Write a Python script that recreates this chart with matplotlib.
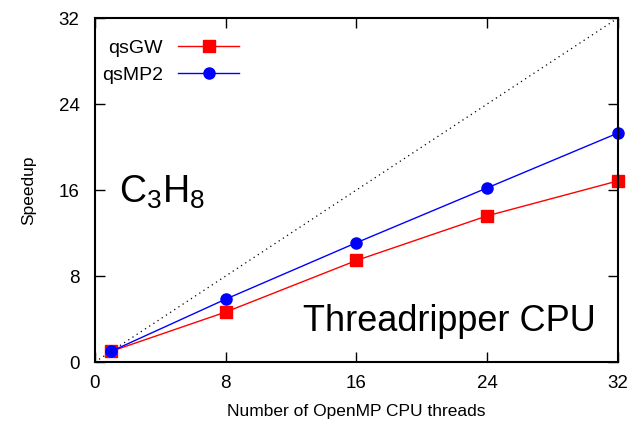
import matplotlib
matplotlib.use("Agg")
import matplotlib.pyplot as plt

threads = [1, 8, 16, 24, 32]
qsgw = [1.0, 4.65, 9.45, 13.6, 16.85]
qsmp2 = [1.0, 5.85, 11.1, 16.2, 21.3]
ticks = [0, 8, 16, 24, 32]

plt.rcParams['font.family'] = ['Liberation Sans', 'DejaVu Sans']
plt.rcParams['mathtext.fontset'] = 'custom'
plt.rcParams['mathtext.rm'] = 'Liberation Sans'
plt.rcParams['mathtext.it'] = 'Liberation Sans'

fig = plt.figure(figsize=(6.41, 4.29), dpi=100)
ax = fig.add_axes([0.148, 0.156, 0.816, 0.802])

# ideal scaling
ax.plot([0, 32], [0, 32], color='black', linestyle=(0, (1, 3)), linewidth=0.9)

ax.plot(threads, qsgw, color='red', marker='s', markersize=8, linewidth=1,
        label='qsGW', clip_on=False, zorder=3)
ax.plot(threads, qsmp2, color='blue', marker='o', markersize=8, linewidth=1,
        label='qsMP2', clip_on=False, zorder=3)

ax.set_xlim(0, 32)
ax.set_ylim(0, 32)
ax.set_xticks(ticks)
ax.set_yticks(ticks)
ax.tick_params(direction='in', length=7, width=1, labelsize=13.5,
               top=True, right=True)
ax.tick_params(axis='x', pad=9)
ax.tick_params(axis='y', pad=11)
for s in ax.spines.values():
    s.set_linewidth(1.5)
    s.set_zorder(4)

ax.set_xlabel('Number of OpenMP CPU threads', fontsize=12.5, labelpad=9)
ax.set_ylabel('Speedup', fontsize=12.5, labelpad=16)

ax.text(1.5, 15.8, r'C$_\mathregular{3}$H$_\mathregular{8}$', fontsize=27,
        va='center')
ax.text(30.65, 3.8, 'Threadripper CPU', fontsize=26, ha='right', va='center')

leg = ax.legend(loc='upper left', bbox_to_anchor=(-0.02, 0.99), frameon=False,
                fontsize=14, markerfirst=False, handlelength=3.1,
                handletextpad=0.8, labelspacing=0.5)
for t in leg.get_texts():
    t.set_ha('right')

fig.savefig('out.png', dpi=100)
